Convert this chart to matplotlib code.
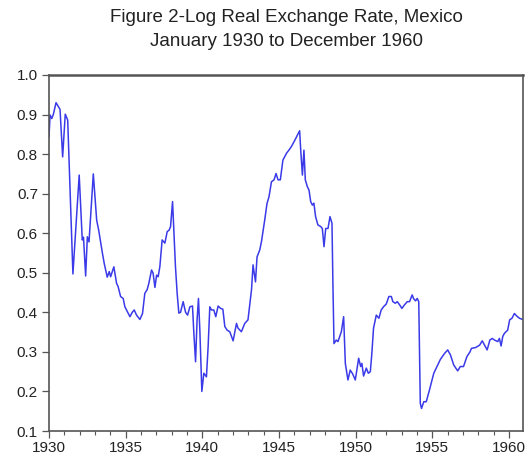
import matplotlib
matplotlib.use("Agg")
import matplotlib.pyplot as plt
from matplotlib.ticker import MultipleLocator, FormatStrFormatter

plt.rcParams['font.family'] = ['Liberation Sans', 'DejaVu Sans']

# Log real exchange rate, Mexico (decimal year, value)
years = [
    1930.00, 1930.07, 1930.18, 1930.28, 1930.46, 1930.61, 1930.72, 1930.89,
    1931.06, 1931.22, 1931.56, 1931.97, 1932.17, 1932.25, 1932.39, 1932.50,
    1932.61, 1932.89, 1933.11, 1933.24, 1933.47, 1933.60, 1933.80, 1933.93,
    1934.02, 1934.23, 1934.41, 1934.51, 1934.67, 1934.84, 1934.95, 1935.28,
    1935.43, 1935.56, 1935.71, 1935.93, 1936.10, 1936.25, 1936.40, 1936.51,
    1936.69, 1936.79, 1936.91, 1937.02, 1937.12, 1937.23, 1937.38, 1937.56,
    1937.71, 1937.84, 1937.93, 1938.06, 1938.14, 1938.25, 1938.36, 1938.47,
    1938.58, 1938.75, 1938.91, 1939.04, 1939.19, 1939.36, 1939.45, 1939.56,
    1939.66, 1939.75, 1939.84, 1939.97, 1940.10, 1940.27, 1940.38, 1940.49,
    1940.60, 1940.75, 1940.88, 1941.03, 1941.19, 1941.34, 1941.47, 1941.62,
    1941.79, 1942.01, 1942.23, 1942.33, 1942.55, 1942.77, 1942.98, 1943.21,
    1943.31, 1943.47, 1943.57, 1943.75, 1943.86, 1944.07, 1944.22, 1944.35,
    1944.51, 1944.68, 1944.81, 1944.94, 1945.09, 1945.26, 1945.49, 1945.65,
    1945.81, 1945.98, 1946.18, 1946.35, 1946.42, 1946.53, 1946.63, 1946.72,
    1946.85, 1946.96, 1947.07, 1947.18, 1947.28, 1947.39, 1947.54, 1947.72,
    1947.83, 1947.94, 1948.05, 1948.20, 1948.33, 1948.46, 1948.52, 1948.59,
    1948.74, 1948.85, 1949.07, 1949.22, 1949.33, 1949.50, 1949.65, 1949.80,
    1949.98, 1950.20, 1950.33, 1950.41, 1950.52, 1950.70, 1950.83, 1950.96,
    1951.06, 1951.17, 1951.35, 1951.52, 1951.67, 1951.82, 1952.00, 1952.17,
    1952.33, 1952.43, 1952.59, 1952.72, 1952.87, 1953.02, 1953.19, 1953.37,
    1953.52, 1953.69, 1953.78, 1953.91, 1954.02, 1954.12, 1954.22, 1954.30,
    1954.45, 1954.61, 1954.82, 1955.10, 1955.36, 1955.53, 1955.80, 1956.01,
    1956.19, 1956.40, 1956.66, 1956.83, 1957.04, 1957.26, 1957.46, 1957.56,
    1957.83, 1958.09, 1958.26, 1958.58, 1958.76, 1958.91, 1959.06, 1959.27,
    1959.38, 1959.49, 1959.60, 1959.71, 1959.92, 1960.05, 1960.20, 1960.36,
    1960.53, 1960.69, 1960.90,
]
values = [
    0.844, 0.899, 0.890, 0.900, 0.930, 0.920, 0.913, 0.793,
    0.901, 0.886, 0.497, 0.747, 0.583, 0.590, 0.492, 0.591,
    0.578, 0.750, 0.633, 0.608, 0.553, 0.524, 0.489, 0.503,
    0.490, 0.515, 0.473, 0.465, 0.440, 0.435, 0.414, 0.389,
    0.400, 0.406, 0.393, 0.382, 0.397, 0.448, 0.457, 0.473,
    0.507, 0.499, 0.463, 0.494, 0.490, 0.515, 0.583, 0.575,
    0.604, 0.608, 0.617, 0.680, 0.608, 0.515, 0.448, 0.398,
    0.400, 0.427, 0.400, 0.393, 0.414, 0.416, 0.347, 0.275,
    0.381, 0.435, 0.355, 0.200, 0.246, 0.237, 0.313, 0.414,
    0.406, 0.406, 0.389, 0.416, 0.410, 0.408, 0.364, 0.355,
    0.351, 0.328, 0.372, 0.360, 0.351, 0.372, 0.381, 0.457,
    0.520, 0.477, 0.540, 0.558, 0.579, 0.633, 0.675, 0.692,
    0.730, 0.735, 0.751, 0.735, 0.735, 0.785, 0.802, 0.810,
    0.819, 0.831, 0.846, 0.859, 0.810, 0.747, 0.810, 0.735,
    0.718, 0.709, 0.680, 0.671, 0.676, 0.642, 0.621, 0.617,
    0.612, 0.566, 0.612, 0.612, 0.642, 0.625, 0.473, 0.321,
    0.330, 0.326, 0.351, 0.389, 0.271, 0.229, 0.254, 0.245,
    0.229, 0.284, 0.263, 0.271, 0.239, 0.259, 0.246, 0.250,
    0.296, 0.360, 0.393, 0.385, 0.406, 0.414, 0.421, 0.440,
    0.440, 0.427, 0.423, 0.427, 0.419, 0.410, 0.419, 0.427,
    0.427, 0.444, 0.435, 0.429, 0.435, 0.427, 0.170, 0.157,
    0.174, 0.174, 0.204, 0.246, 0.267, 0.281, 0.296, 0.305,
    0.292, 0.267, 0.252, 0.263, 0.263, 0.288, 0.300, 0.309,
    0.311, 0.317, 0.328, 0.305, 0.330, 0.334, 0.330, 0.326,
    0.334, 0.315, 0.339, 0.347, 0.355, 0.381, 0.385, 0.397,
    0.390, 0.385, 0.382,
]

x_major = [1930, 1935, 1940, 1945, 1950, 1955, 1960]
title_lines = ["Figure 2-Log Real Exchange Rate, Mexico",
               "January 1930 to December 1960"]

fig = plt.figure(figsize=(5.26, 4.61), dpi=100)
ax = fig.add_axes([49 / 526, 30 / 461, 474 / 526, 356 / 461])

ax.plot(years, values, color="#3a3ae8", linewidth=1.1)

ax.set_xlim(1930, 1960.92)
ax.set_ylim(0.1, 1.0)
ax.set_xticks(x_major)
ax.xaxis.set_minor_locator(MultipleLocator(1))
ax.yaxis.set_major_locator(MultipleLocator(0.1))
ax.yaxis.set_major_formatter(FormatStrFormatter("%.1f"))

for side in ["left", "right", "bottom", "top"]:
    ax.spines[side].set_color("#555555")
    ax.spines[side].set_linewidth(1.2)
ax.spines["top"].set_linewidth(1.8)

ax.tick_params(axis="both", which="major", direction="out", length=5,
               width=0.9, color="#555555", labelsize=11, labelcolor="#222222")
ax.tick_params(axis="x", which="minor", direction="out", length=3,
               width=0.8, color="#555555")
ax.tick_params(axis="y", which="major", pad=3)
ax.tick_params(axis="x", which="major", pad=2)

fig.text(286 / 526, 1 - 17 / 461, title_lines[0], ha="center", va="center",
         fontsize=13.5, color="#222222")
fig.text(286 / 526, 1 - 42 / 461, title_lines[1], ha="center", va="center",
         fontsize=13.5, color="#222222")

fig.savefig("out.png", dpi=100)
